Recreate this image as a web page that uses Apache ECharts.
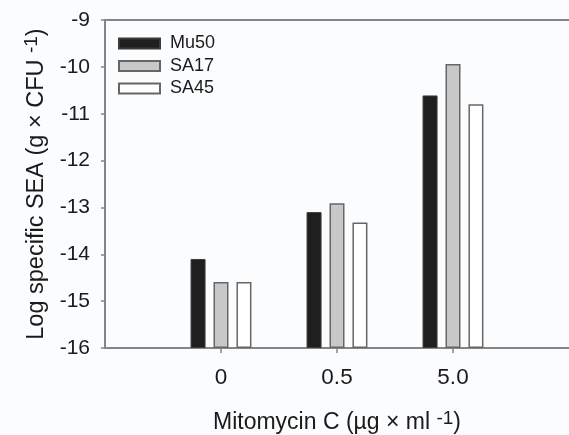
<!DOCTYPE html>
<html>
<head>
<meta charset="utf-8">
<script src="https://cdn.jsdelivr.net/npm/echarts@6/dist/echarts.min.js"></script>
<style>
html,body{margin:0;padding:0;background:#fbfcfe;}
#chart{width:569px;height:435px;}
</style>
</head>
<body>
<div id="chart"></div>
<script>
const categories = ['0', '0.5', '5.0'];
const mu50 = [-14.10, -13.10, -10.61];
const sa17 = [-14.59, -12.91, -9.94];
const sa45 = [-14.59, -13.32, -10.80];
const yTicks = [-16, -15, -14, -13, -12, -11, -10, -9];

const paddedCats = [''].concat(categories, ['']);
const pad = arr => [null].concat(arr, [null]);

const FONT = 'Liberation Sans';
const AX = '#858585';

const chart = echarts.init(document.getElementById('chart'), null, {renderer: 'canvas'});
chart.setOption({
  backgroundColor: '#fbfcfe',
  animation: false,
  textStyle: {fontFamily: FONT, color: '#1a1a1a'},
  grid: {left: 105, right: 0, top: 20, bottom: 87, containLabel: false, outerBoundsMode: 'none'},
  legend: {
    orient: 'vertical',
    left: 113,
    top: 28.5,
    itemWidth: 41,
    itemHeight: 10,
    itemGap: 2.5,
    icon: 'rect',
    textStyle: {fontFamily: FONT, fontSize: 18, color: '#1a1a1a', lineHeight: 20, padding: [0, 0, 0, 5]},
    data: ['Mu50', 'SA17', 'SA45']
  },
  xAxis: [{
    type: 'category',
    data: paddedCats,
    boundaryGap: false,
    position: 'bottom',
    axisLine: {lineStyle: {color: AX, width: 2}},
    axisTick: {show: true, length: 5, lineStyle: {color: AX, width: 1.5}, interval: (i) => i >= 1 && i <= 3},
    axisLabel: {interval: 0, fontFamily: FONT, fontSize: 22.5, color: '#1a1a1a', margin: 18},
    splitLine: {show: false},
    name: 'Mitomycin C (µg × ml {sup|-1})',
    nameLocation: 'middle',
    nameGap: 61,
    nameTextStyle: {fontFamily: FONT, fontSize: 23, color: '#1a1a1a',
      rich: {sup: {fontFamily: FONT, fontSize: 19, color: '#1a1a1a', padding: [0, 0, 9, 0]}}}
  }, {
    type: 'category',
    data: paddedCats,
    boundaryGap: false,
    position: 'top',
    axisLine: {show: true, lineStyle: {color: AX, width: 2}},
    axisTick: {show: false},
    axisLabel: {show: false}
  }],
  yAxis: {
    type: 'value',
    min: yTicks[0],
    max: yTicks[yTicks.length - 1],
    interval: 1,
    startValue: yTicks[0],
    axisLine: {show: true, lineStyle: {color: AX, width: 2}},
    axisTick: {show: true, length: 4, lineStyle: {color: AX, width: 1.5}},
    axisLabel: {fontFamily: FONT, fontSize: 21, color: '#1a1a1a', margin: 15},
    splitLine: {show: false},
    name: 'Log specific SEA (g × CFU {sup|-1})',
    nameLocation: 'middle',
    nameGap: 54,
    nameTextStyle: {fontFamily: FONT, fontSize: 23.5, color: '#1a1a1a',
      rich: {sup: {fontFamily: FONT, fontSize: 19, color: '#1a1a1a', padding: [0, 0, 9, 0]}}}
  },
  series: [
    {name: 'Mu50', type: 'bar', data: pad(mu50), barWidth: 15, barGap: '53%',
      itemStyle: {color: '#1f1f1f', borderColor: '#3a3a3a', borderWidth: 1}},
    {name: 'SA17', type: 'bar', data: pad(sa17), barWidth: 15, barGap: '53%',
      itemStyle: {color: '#c8c8c8', borderColor: '#666666', borderWidth: 1.5}},
    {name: 'SA45', type: 'bar', data: pad(sa45), barWidth: 15, barGap: '53%',
      itemStyle: {color: '#ffffff', borderColor: '#666666', borderWidth: 1.5}}
  ]
});
</script>
</body>
</html>
